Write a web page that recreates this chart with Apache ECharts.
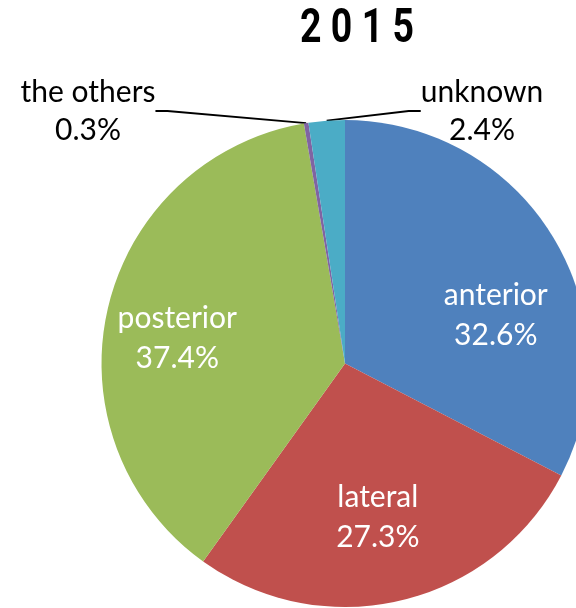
<!DOCTYPE html>
<html>
<head>
<meta charset="utf-8">
<script src="https://cdn.jsdelivr.net/npm/echarts@6/dist/echarts.min.js"></script>
<style>
  html, body { margin: 0; padding: 0; background: #fff; }
  #chart { width: 576px; height: 608px; }
</style>
</head>
<body>
<div id="chart"></div>
<script>
// slice data, clockwise from 12 o'clock
const categories = ['anterior', 'lateral', 'posterior', 'the others', 'unknown']
const shares = [32.6, 27.3, 37.4, 0.3, 2.4]
const colors = ['#4F81BD', '#C0504D', '#9BBB59', '#8064A2', '#4BACC6']
const titleText = '2 0 1 5'

// small slices get an outside label, big ones a white label inside
const isSmall = (v) => v < 5
const fmt = (p) => p.name + '\n' + p.value.toFixed(1) + '%'

// nudges so the inside labels sit where the original has them
const innerNudge = [[16, 34], [-4, 0], [-14, 10]]
// outside label anchors (label boxes, not marks)
const outerSpot = { 3: [88, 111], 4: [482, 111] }

const chart = echarts.init(document.getElementById('chart'))

const option = {
    animation: false,
    // title is a graphic text so it can be squeezed like the condensed original
    graphic: [{
        type: 'text',
        x: 357,
        y: 30,
        scaleX: 0.78,
        style: {
            text: titleText,
            font: 'bold 48px Roboto, sans-serif',
            fill: '#000',
            align: 'center',
            verticalAlign: 'middle'
        }
    }],
    series: [
        {
            type: 'pie',
            center: [345, 363.5],
            radius: [0, 243.5],
            startAngle: 90,
            clockwise: true,
            avoidLabelOverlap: false,
            silent: true,
            data: categories.map((name, i) => ({
                name,
                value: shares[i],
                itemStyle: { color: colors[i] },
                label: { show: isSmall(shares[i]) },
                labelLine: { show: isSmall(shares[i]) }
            })),
            itemStyle: { borderWidth: 0 },
            label: {
                position: 'outside',
                formatter: fmt,
                fontFamily: 'Lato, sans-serif',
                fontSize: 30,
                lineHeight: 38,
                color: '#000',
                align: 'center'
            },
            labelLine: {
                length: 20,
                length2: 12,
                lineStyle: { color: '#000', width: 1.8 }
            },
            labelLayout: (p) => {
                const s = outerSpot[p.dataIndex]
                if (!s) return {}
                return { x: s[0], y: s[1], align: 'center', verticalAlign: 'middle' }
            }
        },
        {
            // label carrier: same slices, drawn transparent, labels at mid-ring
            type: 'pie',
            center: [345, 363.5],
            radius: [66, 243.5],
            startAngle: 90,
            clockwise: true,
            silent: true,
            data: categories.map((name, i) => ({
                name,
                value: shares[i],
                itemStyle: { color: 'rgba(0,0,0,0)' },
                label: { show: !isSmall(shares[i]) }
            })),
            label: {
                position: 'inside',
                formatter: fmt,
                fontFamily: 'Lato, sans-serif',
                fontSize: 30,
                lineHeight: 40,
                color: '#fff'
            },
            labelLine: { show: false },
            labelLayout: (p) => {
                const n = innerNudge[p.dataIndex]
                return n ? { dx: n[0], dy: n[1] } : {}
            }
        }
    ]
}

chart.setOption(option)
</script>
</body>
</html>
